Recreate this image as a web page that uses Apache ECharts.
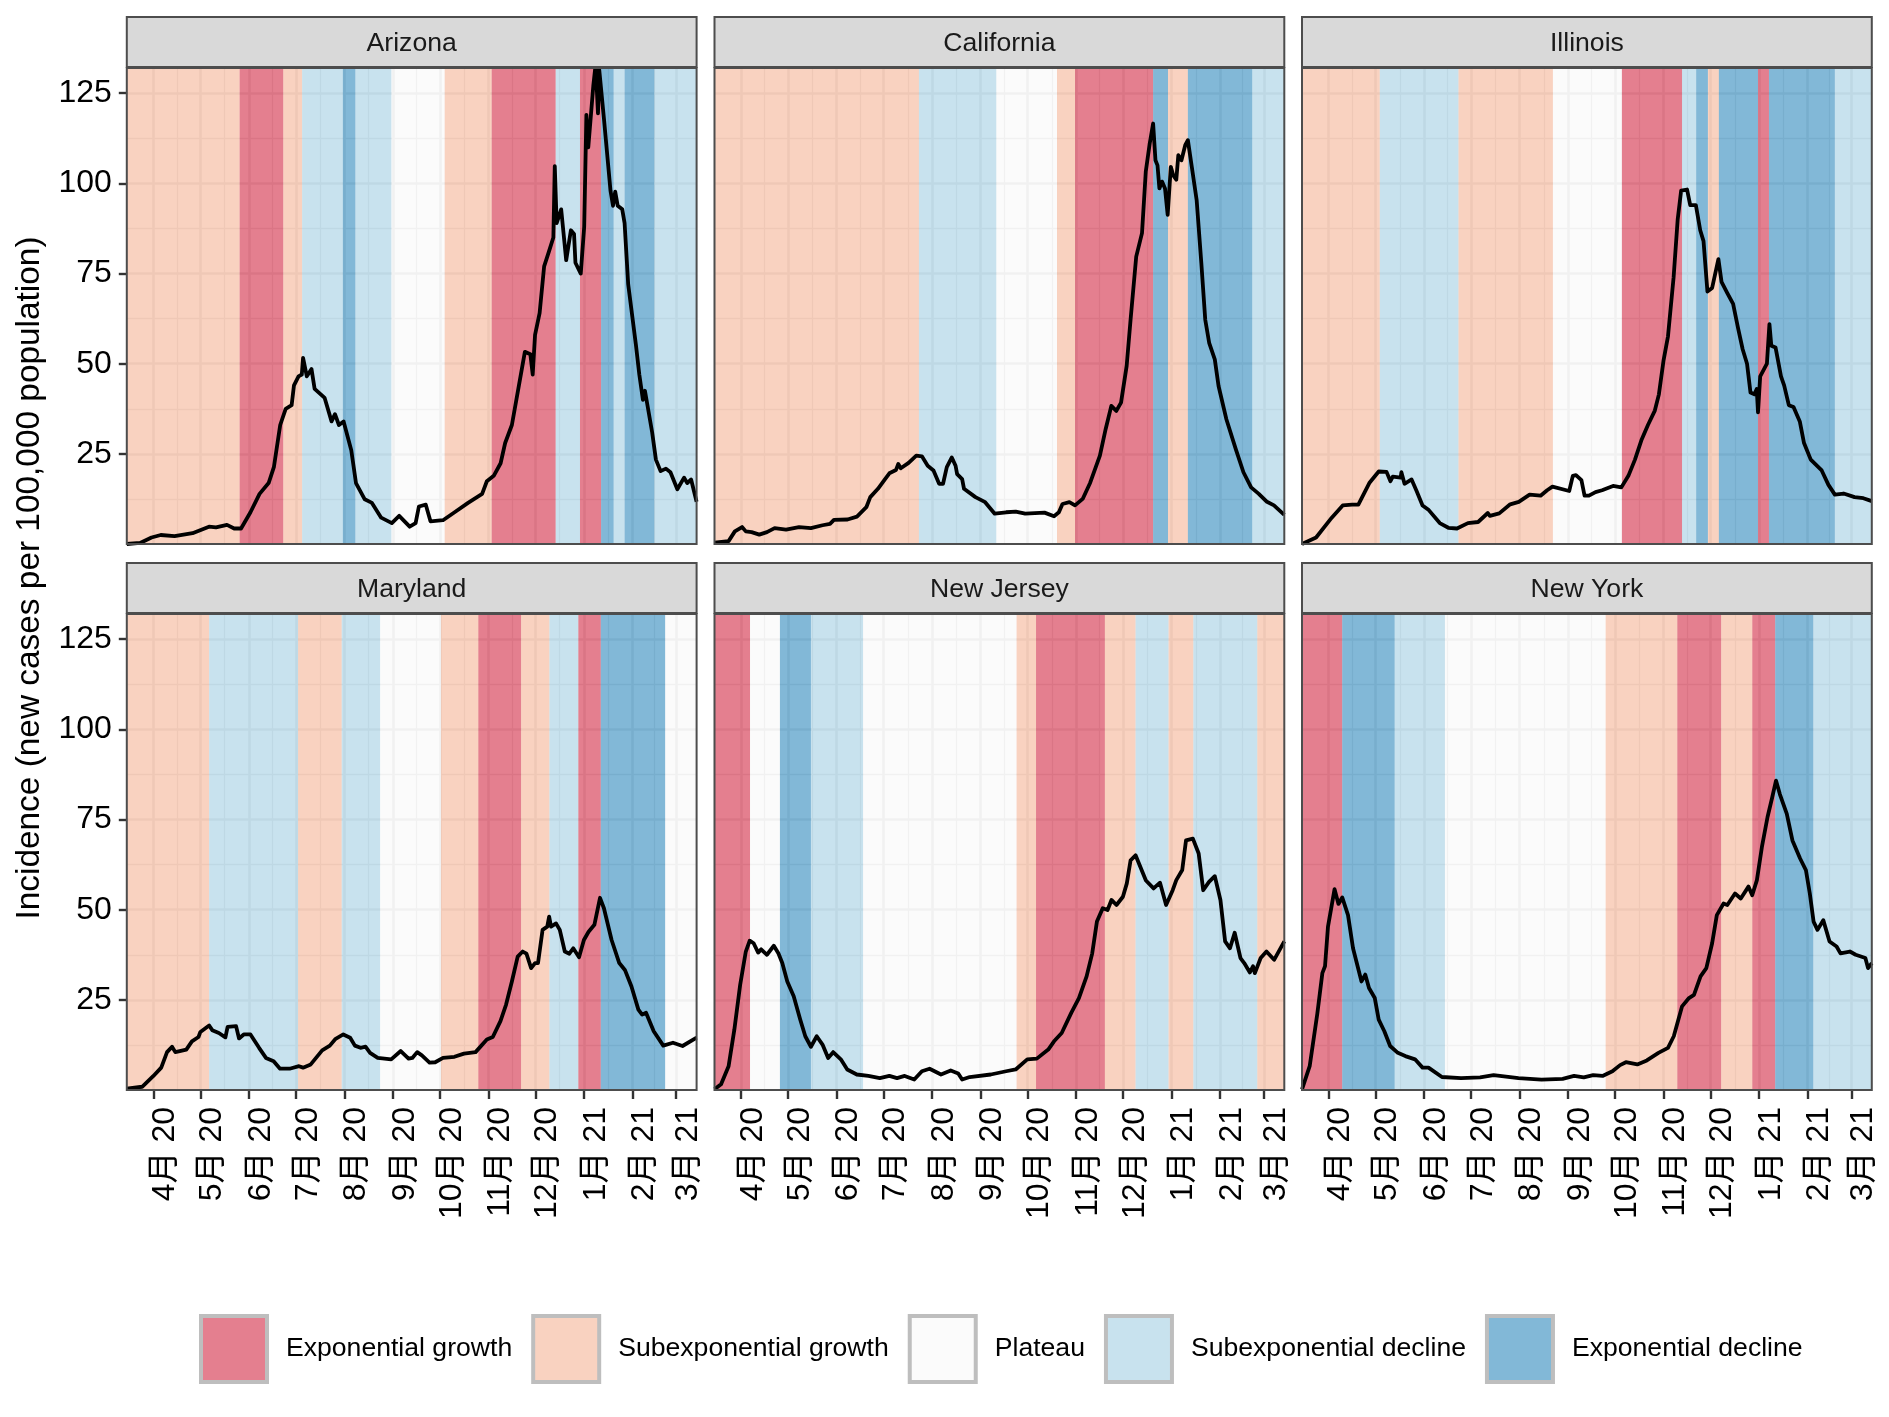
<!DOCTYPE html>
<html><head><meta charset="utf-8">
<style>html,body{margin:0;padding:0;background:#fff}#c{width:1889px;height:1417px}</style>
<script src="https://cdn.jsdelivr.net/npm/echarts@6/dist/echarts.min.js"></script>
</head><body><div id="c"></div>
<script>
// ---- categories and tick labels ----
const states = ['Arizona','California','Illinois','Maryland','New Jersey','New York'];
const phaseNames = ['Exponential growth','Subexponential growth','Plateau','Subexponential decline','Exponential decline'];
const phaseColors = ['rgba(202,0,32,0.5)','rgba(244,165,130,0.5)','rgba(247,247,247,0.5)','rgba(146,197,222,0.5)','rgba(5,113,176,0.5)'];
const monthDates = ['2020-04-01','2020-05-01','2020-06-01','2020-07-01','2020-08-01','2020-09-01','2020-10-01','2020-11-01','2020-12-01','2021-01-01','2021-02-01','2021-03-01'];
const monthLabels = ['4月 20','5月 20','6月 20','7月 20','8月 20','9月 20','10月 20','11月 20','12月 20','1月 21','2月 21','3月 21'];
const yTicks = [25,50,75,100,125];
const yMinor = [12.5,37.5,62.5,87.5,112.5];
const axisStart = '2020-03-15'; // day 0 of every "day" array
const axisDays = 364;
const yTop = 132;

// ---- phase spans: phase index, and the day each span ends ----
const arizonaKinds = [1,0,1,3,4,3,2,1,0,3,0,4,3,4,3];
const arizonaEnds  = [72,100,112,138,146,169,203,233,274,289.5,303,311,318,337,364];
const californiaKinds = [1,3,2,1,0,4,1,4,3];
const californiaEnds  = [130.6,180,218.8,230.3,280.2,289.7,302.4,343.5,364];
const illinoisKinds = [1,3,1,2,0,3,4,1,4,0,4,3];
const illinoisEnds  = [49.7,99.9,160.3,204.3,242.8,251.8,259.3,266.3,291.3,298.3,340.4,364];
const marylandKinds = [1,3,1,3,2,1,0,1,3,0,4,2];
const marylandEnds  = [52.6,109.4,137.3,161.8,200.7,224.5,251.9,270,288.4,302.8,343.9,364];
const newJerseyKinds = [0,2,4,3,2,1,0,1,3,1,3,1];
const newJerseyEnds  = [22.7,41.8,61.6,94.9,192.9,205.4,249.4,269,290,305.9,346.7,364];
const newYorkKinds = [0,4,3,2,1,0,1,0,4,3];
const newYorkEnds  = [25.7,59.2,91.3,193.9,239.7,267.8,287.6,302.3,326.6,364];

// ---- incidence: day since axisStart, new cases per 100,000 ----
const arizonaDay = [0,8.5,15.8,21.7,30.5,42,52.5,57,64,68.6,73,79,84.8,90.6,94,98,101.5,105.3,106.8,109.7,111.8,112.6,115,118,120,126.4,130.8,133,135.5,138.5,143.4,146.4,152,156.6,162.5,169.3,174,180.7,184.5,186.6,191,194,202,209.4,218,227,230,234.4,238.8,241.7,246,250.5,254.3,257.8,259.3,260.8,263.7,266.6,269.6,272.5,273.4,274.6,277.5,280.7,283.7,285.7,286.6,290,292.2,293.6,294.8,298,299.5,301,301.8,304.8,309,310.6,312,313.6,316.5,318,320.3,325.3,327.4,329.7,331,335.6,338,341,344.4,347.3,351.7,356,358,360.5,364];
const arizonaCases = [0,0.3,1.8,2.5,2.2,3,4.8,4.6,5.3,4.3,4.3,8.8,13.9,16.9,21.4,33,37.5,38.5,44,46.5,47,51.6,46.5,48.5,43,40.5,34,36,33,34,26,16.9,12.4,11.4,7.3,5.8,7.8,4.8,5.8,10.4,10.9,6.3,6.6,8.8,11.4,13.9,17.4,18.9,22.4,28,33,44,53.3,52.6,47,58,64,77,81,85,104.8,89,92.8,78.7,87,86,78,75,88,119,110,127,133,119.4,131.5,118,98,93.8,97.7,93.8,92.8,89,72,55,47,40,42.5,31,23.4,20.2,20.9,19.9,15.2,18.4,16.9,17.9,11.7];
const californiaDay = [0,9,13,17.6,20,23.7,28.6,33.5,38.4,45.7,54,61.6,69,73.8,76.3,85,91,97,99.5,104.4,108.6,111.7,115.9,117.4,119,124,128.9,132.5,136.2,139.9,143.5,146,148.4,151.6,154,155,158.2,159.4,166.7,172.9,179,186.3,192.4,198.5,210.8,216.9,220,222.3,226.7,230.3,235.2,240,246.2,249.9,253.5,256.7,259.7,263.3,265.8,269.4,273.1,275.5,278,280.2,281.7,283,284.2,285.9,287.8,289.5,291.5,293,295,296.3,298.3,300.7,302.4,304.9,308,311,313.5,316,319.6,322,327,333,337.9,342.8,347.7,352.6,357.4,364];
const californiaCases = [0.4,0.8,3.5,4.7,3.5,3.3,2.6,3.3,4.4,4,4.7,4.4,5.2,5.6,6.7,6.8,7.6,10.2,13,15.3,17.8,19.6,20.5,22.2,21,22.5,24.5,24.3,21.7,20.4,16.7,16.7,21.3,24,21.7,19.4,18,15.3,13,11.6,8.4,8.8,9,8.4,8.7,7.7,8.8,11.1,11.6,10.7,12.5,17,24.5,31.9,38.3,36.9,39.2,49.4,62.2,79.7,86.2,103.2,111,116.6,106.4,105,98.6,100.5,98.6,91.3,104.6,102.3,101,107.8,106.4,110.6,112,104.6,95.4,77.9,62.2,55.8,51.2,43.8,34.6,26.3,19.9,15.7,13.9,11.8,10.7,8.1];
const illinoisDay = [0,9,19,26,32,36,43,49,54,56.5,58,63,63.5,65.5,70,73,77,81,88,93.5,99,106,112.5,118.7,120,126,133,138.5,145.4,152.4,156.6,160,170.7,173,175,178.5,180.5,183.3,187.5,191.7,198.7,204,208.5,212.7,217,221,225.4,228,231,233.8,237.4,240,242.2,246,248,251.6,254.4,256.5,259,262,266,268,271.7,275.4,278.7,281.5,284.3,286.5,289,290.5,291.3,292.7,297,298.6,299.8,302.5,306,308,311,314,318,320.7,325,332,336.3,340.4,346,353,358.6,364];
const illinoisCases = [0,1.8,7.3,10.7,10.9,10.9,16.9,20.1,20,17.4,18.7,18.4,19.9,16.7,17.9,14.9,10.7,9.4,5.8,4.5,4.3,5.8,6.1,8.6,7.8,8.5,11,11.7,13.7,13.4,14.9,15.9,14.7,18.9,19.1,17.7,13.4,13.4,14.4,14.9,16.1,15.7,18.9,23.4,29,33,37,41.5,51,57.6,74,90,98,98.3,94,94,87,84,70,71,79,72.7,69.6,66.6,59.6,54,50,42,41.5,43,36.5,46.5,50,61,55,54.5,46.5,44,38.5,38,34,28,23.4,20.4,16.4,13.7,14,13,12.7,11.9];
const marylandDay = [0,9.8,17,22,25.7,28.9,31,38,41.6,45.8,47,52.6,54.6,58.8,63,64.4,69.8,71.7,74.7,79,84.5,88.9,93.8,97.9,104,110,112.6,117.5,124.8,129.7,133.4,138.3,142.7,145.7,149.3,152.5,155.4,160.3,168.9,175,180,182.4,185.5,188.5,193.4,197,202,209.3,215.4,222.8,230,233.8,238.7,242.3,246,249.7,252.9,255.3,258.3,260.8,262.7,265.6,268.6,269.8,271,274.2,276.6,279.8,282.7,285.2,288.9,292,295,298.7,302.3,304.8,309.7,314.6,318.2,322.4,326.8,329.2,331.7,336.6,342.7,348.9,355,364];
const marylandCases = [0.4,0.9,3.9,6.2,10.5,12,10.5,11.2,13.5,14.7,16.1,17.9,16.6,15.8,14.6,17.5,17.7,14.3,15.4,15.4,11.7,8.9,8,5.9,5.9,6.6,6.2,7.1,11,12.3,14.2,15.4,14.5,12.3,11.7,12,10.3,8.9,8.5,10.8,8.7,8.9,10.5,9.6,7.6,7.7,8.9,9.2,10.1,10.5,14,14.7,19.1,23.7,30.1,37,38.4,37.8,33.8,35.2,35.2,44.4,45.3,48.1,45.3,46.2,44.4,38.4,37.8,39.3,36.8,41.6,43.9,45.8,53.3,50.4,41.6,35.2,33.3,28.7,22.3,20.9,21.4,16.3,12.3,13.1,12.2,14.5];
const newJerseyDay = [0,4.2,9,12.7,16.4,20,22.5,25,27.9,29.8,33.5,37.9,40.8,43.3,46.5,50.6,54.8,58,61.6,65.3,69,72.6,75.8,80.7,84.8,90.9,98.3,105.6,111.7,116.6,121.5,127.6,132.5,137.4,144.7,150.9,155.7,158.2,163,176.5,186.3,192.4,199.8,205.9,213.2,216.9,221.8,227.9,232.8,237.7,241.3,244.3,248,251.1,253.6,256.8,260.9,263.4,265.8,269,272,275.6,280.5,281.7,284.6,288.5,292.7,295,298.8,301.2,305.6,309.3,312.2,315.9,319.6,323.2,326.2,329.3,332.3,336,338.4,342,344,345.2,348.9,352.6,357.5,364];
const newJerseyCases = [0.2,1.6,6.6,16.8,29.2,38.4,41.4,40.7,38.1,39,37.5,40,37.9,35.2,30.1,26,19.5,14.9,12,14.9,12.6,8.9,10.5,8.5,5.7,4.3,3.9,3.3,3.9,3.3,3.9,2.9,5.2,5.9,4.3,5.4,4.6,2.9,3.6,4.3,5.2,5.7,8.5,8.7,11.2,13.5,15.8,21.4,25.5,31.5,37.9,46.7,50.4,49.9,52.7,51.3,53.6,57.3,63.7,65.1,61.9,58.1,55.9,55.4,57.5,51.3,55.4,58.2,61,69.2,69.7,65.6,55.4,57.7,59.3,52.7,41.2,39.3,43.6,36.6,35.2,32.6,34.3,32.4,36.6,38.4,36.1,41.2];
const newYorkDay = [0,4.9,9.8,13,14.7,16.6,20.8,23.3,25.7,29.4,32.6,38,40.4,42.8,46.5,49,52.6,56.3,61.2,66,72.2,77,80.8,89.4,101.6,113.8,122.4,138.3,153,166.5,173.8,180,186,192,198.3,203.2,206.9,214.2,220.3,227.7,233.8,237.5,242.8,247.2,250.4,254.6,258.3,262,265,269.3,271.7,276.6,280.3,285.2,287.6,290.6,293.8,297.4,300.4,302.8,305.3,309.7,313.3,318.2,321.9,324.4,326.8,329.3,333,337,341.5,344,350,353.7,359.9,361.6,364];
const newYorkCases = [0.2,6.6,21.2,32.4,34.3,45.3,55.7,51.6,53.4,48.5,39.3,30.1,32,28.3,25.5,19.5,16.3,12.2,10.3,9.4,8.5,6.2,6.2,3.6,3.3,3.5,4.1,3.3,2.9,3.1,3.9,3.5,4.1,3.9,5.2,6.9,7.7,7.1,8.2,10.3,11.7,14.9,23.2,25.5,26.4,31.5,33.8,40.7,48.5,51.7,51.3,54.5,53.1,56.4,54,58.2,67.4,75.7,81.2,85.8,82,76.6,69.2,64.2,61,54.5,46.7,44.4,47.1,41.2,39.8,37.9,38.4,37.5,36.6,33.8,35.2];

const stateKinds = [arizonaKinds,californiaKinds,illinoisKinds,marylandKinds,newJerseyKinds,newYorkKinds];
const stateEnds  = [arizonaEnds,californiaEnds,illinoisEnds,marylandEnds,newJerseyEnds,newYorkEnds];
const stateDays  = [arizonaDay,californiaDay,illinoisDay,marylandDay,newJerseyDay,newYorkDay];
const stateCases = [arizonaCases,californiaCases,illinoisCases,marylandCases,newJerseyCases,newYorkCases];

// ---- layout ----
const FONT = '"Liberation Sans","Noto Sans CJK JP",sans-serif';
const colLeft = [126.8,714.5,1302], panelW = 569.8;
const rowTop = [68,614], panelH = 476, stripH = 50;

const t0 = Date.parse(axisStart+'T00:00:00Z');
const dayTs = d => t0 + d*864e5;
const monthTs = monthDates.map(s => Date.parse(s+'T00:00:00Z'));
const minorTs = [];
for (let i=0;i<monthTs.length-1;i++) minorTs.push((monthTs[i]+monthTs[i+1])/2);

const grid=[],xAxis=[],yAxis=[],series=[],graphic=[];
states.forEach((name,i)=>{
  const c=i%3,r=Math.floor(i/3),L=colLeft[c],T=rowTop[r];
  grid.push({left:L,top:T,width:panelW,height:panelH,containLabel:false});
  xAxis.push({type:'value',gridIndex:i,min:dayTs(0),max:dayTs(axisDays),scale:true,
    axisLine:{show:false},splitLine:{show:false},minorTick:{show:false},
    axisTick:{show:r===1,length:9,lineStyle:{color:'#333',width:2.4},customValues:monthTs},
    axisLabel:{show:r===1,customValues:monthTs,rotate:90,margin:17,fontFamily:FONT,fontSize:32,color:'#000',
      verticalAlign:'top',lineHeight:24,hideOverlap:false,
      formatter:v=>monthLabels[monthTs.indexOf(v)]}});
  yAxis.push({type:'value',gridIndex:i,min:0,max:yTop,
    axisLine:{show:false},splitLine:{show:false},
    axisTick:{show:c===0,length:8,lineStyle:{color:'#333',width:2.4},customValues:yTicks},
    axisLabel:{show:c===0,customValues:yTicks,margin:15,fontFamily:FONT,fontSize:32,color:'#000'}});
  // gridlines, under the translucent phase bands
  const major={color:'#EBEBEB',width:2.6,type:'solid'},minor={color:'#EBEBEB',width:1.3,type:'solid'};
  series.push({type:'line',name:'gridlines'+i,xAxisIndex:i,yAxisIndex:i,data:[],silent:true,
    markLine:{z:1,silent:true,symbol:'none',animation:false,label:{show:false},data:[
      ...monthTs.map(v=>({xAxis:v,lineStyle:major})),...minorTs.map(v=>({xAxis:v,lineStyle:minor})),
      ...yTicks.map(v=>({yAxis:v,lineStyle:major})),...yMinor.map(v=>({yAxis:v,lineStyle:minor}))]}});
  // phase bands
  phaseNames.forEach((pn,k)=>{
    const spans=[];
    stateKinds[i].forEach((kind,j)=>{
      if(kind===k) spans.push([{xAxis:dayTs(j?stateEnds[i][j-1]:0)},{xAxis:dayTs(stateEnds[i][j])}]);
    });
    series.push({type:'line',name:pn,xAxisIndex:i,yAxisIndex:i,data:[],silent:true,
      itemStyle:{color:phaseColors[k]},
      markArea:{z:2,silent:true,animation:false,itemStyle:{color:phaseColors[k],borderWidth:0},label:{show:false},data:spans}});
  });
  // incidence
  series.push({type:'line',name:name,xAxisIndex:i,yAxisIndex:i,z:5,showSymbol:false,symbol:'none',silent:true,animation:false,
    lineStyle:{color:'#000',width:3.8,join:'round'},
    data:stateDays[i].map((d,j)=>[dayTs(d),stateCases[i][j]])});
  // panel border, strip and strip label
  graphic.push({type:'rect',z:50,silent:true,shape:{x:L,y:T,width:panelW,height:panelH},style:{fill:'none',stroke:'#4D4D4D',lineWidth:2}});
  graphic.push({type:'rect',z:50,silent:true,shape:{x:L,y:T-stripH-1,width:panelW,height:stripH},style:{fill:'#D9D9D9',stroke:'#4D4D4D',lineWidth:2}});
  graphic.push({type:'text',z:51,silent:true,x:L+panelW/2,y:T-stripH/2+0.5,style:{text:name,font:'26.6px '+FONT,fill:'#1A1A1A',textAlign:'center',textVerticalAlign:'middle'}});
});
graphic.push({type:'text',z:51,silent:true,x:30,y:578,rotation:Math.PI/2,style:{text:'Incidence (new cases per 100,000 population)',font:'33.4px '+FONT,fill:'#000',textAlign:'center',textVerticalAlign:'middle'}});

const chart=echarts.init(document.getElementById('c'),null,{renderer:'canvas'});
chart.setOption({
  animation:false,useUTC:true,backgroundColor:'#fff',
  grid,xAxis,yAxis,series,graphic,
  legend:{left:199,top:1314,padding:0,itemGap:19,itemWidth:66,itemHeight:66,selectedMode:false,
    textStyle:{fontFamily:FONT,fontSize:26.6,color:'#000',padding:[2,0,0,14]},
    data:phaseNames.map((n,k)=>({name:n,icon:'rect',itemStyle:{color:phaseColors[k],borderColor:'#BEBEBE',borderWidth:4,opacity:1}}))}
});
</script></body></html>
